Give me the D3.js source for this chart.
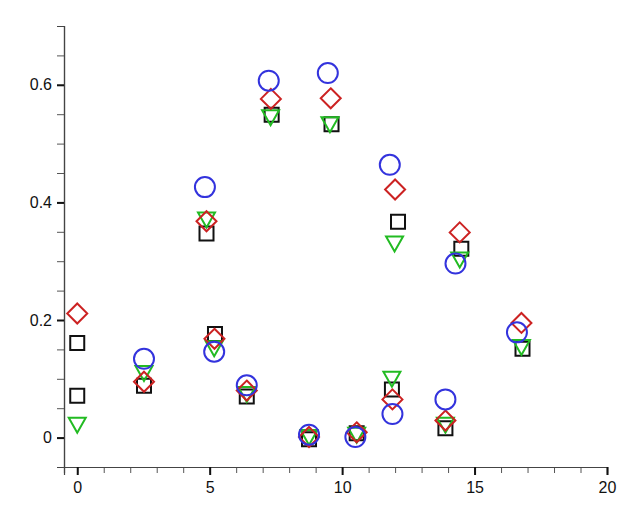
<!DOCTYPE html>
<html>
<head>
<meta charset="utf-8">
<script src="https://cdn.jsdelivr.net/npm/d3@7"></script>
<style>
  body { margin: 0; background: #fff; }
  svg { display: block; font-family: Arial, "Liberation Sans", sans-serif; }
</style>
</head>
<body>
<svg id="chart"></svg>
<script>
// ---- data ----
const xMajorTicks = [0, 5, 10, 15, 20];
const yMajorTicks = [0, 0.2, 0.4, 0.6];

const squareX = [0, 0, 2.52, 4.88, 5.2, 6.4, 7.34, 8.75, 9.6, 10.55, 11.88, 12.11, 13.9, 14.5, 16.81];
const squareY = [0.161, 0.071, 0.088, 0.347, 0.176, 0.070, 0.549, -0.003, 0.533, 0.0075, 0.082, 0.367, 0.016, 0.321, 0.151];

const diamondX = [0, 2.52, 4.88, 5.18, 6.4, 7.31, 8.75, 9.57, 10.55, 11.9, 12.0, 13.9, 14.44, 16.77];
const diamondY = [0.211, 0.095, 0.368, 0.168, 0.080, 0.576, 0.001, 0.577, 0.009, 0.065, 0.422, 0.029, 0.349, 0.195];

const circleX = [2.52, 4.82, 5.17, 6.4, 7.23, 8.75, 9.46, 10.5, 11.9, 11.8, 13.9, 14.28, 16.6];
const circleY = [0.134, 0.426, 0.146, 0.089, 0.607, 0.005, 0.620, 0.001, 0.040, 0.464, 0.065, 0.296, 0.179];

const triangleX = [0, 2.52, 4.88, 5.17, 6.4, 7.3, 8.75, 9.54, 10.55, 11.88, 11.98, 13.9, 14.44, 16.77];
const triangleY = [0.022, 0.110, 0.371, 0.152, 0.074, 0.545, 0.001, 0.533, 0.005, 0.100, 0.330, 0.022, 0.303, 0.154];

// ---- layout ----
const width = 640;
const height = 520;
const margin = { top: 26, right: 33, bottom: 53, left: 64 };

const svg = d3.select('#chart').attr('width', width).attr('height', height);

const x = d3.scaleLinear().domain([-0.5, 20]).range([margin.left, width - margin.right]);
const y = d3.scaleLinear().domain([-0.05, 0.7]).range([height - margin.bottom, margin.top]);

const xMinor = d3.range(0, 21, 1);
const yMinor = d3.range(-0.05, 0.701, 0.05);

// minor ticks first, then major with labels
const styleAxis = (g, minor) => {
  g.select('.domain').attr('stroke', '#444').attr('stroke-width', 1.2);
  g.selectAll('.tick line')
    .attr('stroke', minor ? '#555' : '#111')
    .attr('stroke-width', minor ? 1 : 2);
  g.selectAll('.tick text')
    .attr('fill', '#111')
    .style('font-size', '16px');
};

svg.append('g')
  .attr('transform', `translate(0,${height - margin.bottom})`)
  .call(d3.axisBottom(x).tickValues(xMinor).tickSize(6).tickFormat(''))
  .call((g) => styleAxis(g, true));

svg.append('g')
  .attr('transform', `translate(0,${height - margin.bottom})`)
  .call(d3.axisBottom(x).tickValues(xMajorTicks).tickSize(8).tickPadding(7).tickFormat(d3.format('d')))
  .call((g) => styleAxis(g, false));

svg.append('g')
  .attr('transform', `translate(${margin.left},0)`)
  .call(d3.axisLeft(y).tickValues(yMinor).tickSize(7).tickFormat(''))
  .call((g) => styleAxis(g, true));

svg.append('g')
  .attr('transform', `translate(${margin.left},0)`)
  .call(d3.axisLeft(y).tickValues(yMajorTicks).tickSize(7).tickPadding(5).tickFormat((d) => (d === 0 ? '0' : d3.format('.1f')(d))))
  .call((g) => styleAxis(g, false));

// ---- markers ----
const pts = (xs, ys) => xs.map((v, i) => ({ x: v, y: ys[i] }));

const squarePath = 'M-7,-7H7V7H-7Z';
const diamondPath = 'M0,-10L10,0L0,10L-10,0Z';
const trianglePath = 'M-8.5,-7L8.5,-7L0,8Z';

const drawPath = (data, path, color) => {
  svg.append('g')
    .selectAll('path')
    .data(data)
    .enter()
    .append('path')
    .attr('d', path)
    .attr('transform', (d) => `translate(${x(d.x)},${y(d.y)})`)
    .attr('fill', 'none')
    .attr('stroke', color)
    .attr('stroke-width', 2);
};

drawPath(pts(squareX, squareY), squarePath, '#111111');
drawPath(pts(triangleX, triangleY), trianglePath, '#22bb22');
drawPath(pts(diamondX, diamondY), diamondPath, '#cc2222');

svg.append('g')
  .selectAll('circle')
  .data(pts(circleX, circleY))
  .enter()
  .append('circle')
  .attr('cx', (d) => x(d.x))
  .attr('cy', (d) => y(d.y))
  .attr('r', 10)
  .attr('fill', 'none')
  .attr('stroke', '#3333dd')
  .attr('stroke-width', 2);
</script>
</body>
</html>
